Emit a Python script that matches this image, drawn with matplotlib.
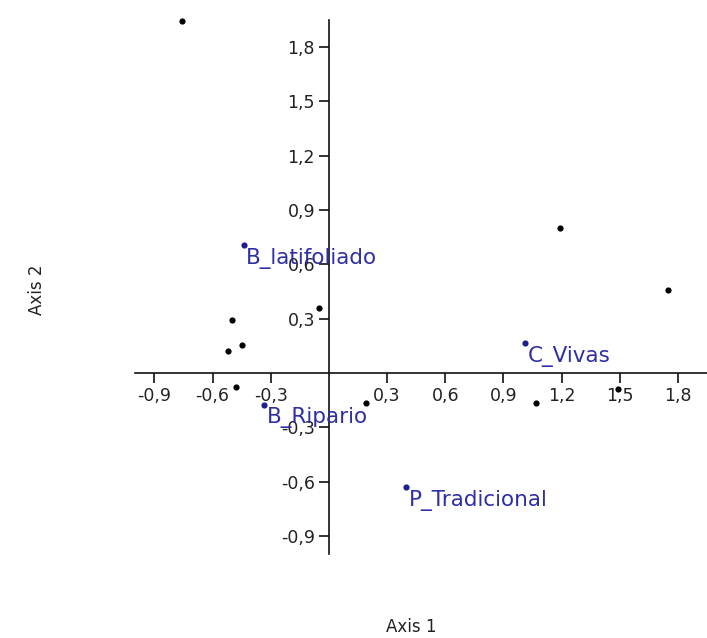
import numpy as np
import matplotlib
matplotlib.use("Agg")
import matplotlib.pyplot as plt
from matplotlib.ticker import FixedLocator, FuncFormatter

# puntuaciones de las muestras (puntos negros)
sample_x = [-0.76, 1.19, 1.75, -0.50, -0.45, -0.52, -0.05, -0.48, 0.19, 1.07, 1.49]
sample_y = [1.945, 0.80, 0.46, 0.29, 0.155, 0.12, 0.36, -0.075, -0.165, -0.165, -0.088]

# variables (puntos azules con etiqueta)
var_names = ["B_latifoliado", "C_Vivas", "P_Tradicional", "B_Ripario"]
var_x = [-0.44, 1.01, 0.40, -0.335]
var_y = [0.707, 0.166, -0.63, -0.175]

tick_vals = [-0.9, -0.6, -0.3, 0.3, 0.6, 0.9, 1.2, 1.5, 1.8]

plt.rcParams['font.family'] = ['DejaVu Sans']

fig = plt.figure(figsize=(7.07, 6.38), dpi=100)
# ejes colocados a mano para que el origen quede donde en la figura original
ax = fig.add_axes([135 / 707, 1 - 554 / 638, (707 - 135) / 707, (554 - 20) / 638])
ax.set_xlim(-1.0, 1.95)
ax.set_ylim(-1.0, 1.95)

# ejes cruzando en el origen
for side in ['top', 'right']:
    ax.spines[side].set_visible(False)
ax.spines['left'].set_position(('data', 0))
ax.spines['bottom'].set_position(('data', 0))
for side in ['left', 'bottom']:
    ax.spines[side].set_linewidth(1.2)
    ax.spines[side].set_color('#111111')

fmt = FuncFormatter(lambda v, p: ("%.1f" % v).replace('.', ','))
ax.xaxis.set_major_locator(FixedLocator(tick_vals))
ax.yaxis.set_major_locator(FixedLocator(tick_vals))
ax.xaxis.set_major_formatter(fmt)
ax.yaxis.set_major_formatter(fmt)
ax.tick_params(axis='both', direction='out', length=7, width=1.2,
               color='#111111', labelsize=12.5, labelcolor='#222222', pad=3)
ax.patch.set_alpha(0)

ax.scatter(sample_x, sample_y, s=20, color='black', zorder=3, linewidths=0,
           clip_on=False)
ax.scatter(var_x, var_y, s=20, color='#1f1f8f', zorder=3, linewidths=0,
           clip_on=False)
for name, x, y in zip(var_names, var_x, var_y):
    ax.annotate(name, (x, y), xytext=(2, -2), textcoords='offset points',
                ha='left', va='top', fontsize=15.5, color='#2e2ea6', zorder=4)

fig.text(411 / 707, 1 - 627 / 638, "Axis 1", ha='center', va='center',
         fontsize=12, color='#222222')
fig.text(37 / 707, 1 - 290 / 638, "Axis 2", ha='center', va='center',
         rotation=90, fontsize=12, color='#222222')

fig.savefig("out.png", dpi=100)
